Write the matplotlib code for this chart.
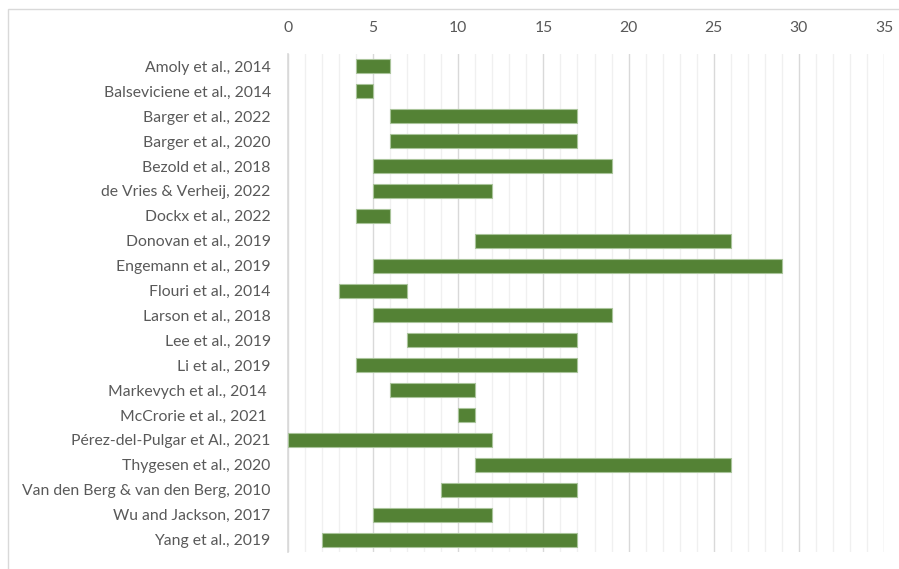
import matplotlib.pyplot as plt
from matplotlib.patches import Rectangle
from matplotlib.ticker import MultipleLocator

# studies and their age ranges (start, end)
studies = ["Amoly et al., 2014", "Balseviciene et al., 2014", "Barger et al., 2022",
           "Barger et al., 2020", "Bezold et al., 2018", "de Vries & Verheij, 2022",
           "Dockx et al., 2022", "Donovan et al., 2019", "Engemann et al., 2019",
           "Flouri et al., 2014", "Larson et al., 2018", "Lee et al., 2019",
           "Li et al., 2019", "Markevych et al., 2014 ", "McCrorie et al., 2021 ",
           "Pérez-del-Pulgar et Al., 2021", "Thygesen et al., 2020",
           "Van den Berg & van den Berg, 2010", "Wu and Jackson, 2017", "Yang et al., 2019"]
age_start = [4, 4, 6, 6, 5, 5, 4, 11, 5, 3, 5, 7, 4, 6, 10, 0, 11, 9, 5, 2]
age_end = [6, 5, 17, 17, 19, 12, 6, 26, 29, 7, 19, 17, 17, 11, 11, 12, 26, 17, 12, 17]

plt.rcParams['font.family'] = ['Lato', 'DejaVu Sans']

fig = plt.figure(figsize=(8.99, 5.69), dpi=100)
ax = fig.add_axes([288 / 899, 1 - 552 / 569, (884 - 288) / 899, (552 - 54) / 569])

# chart border
fig.patches.append(Rectangle((8 / 899, -0.05), 1.0, 1 - 9 / 569 + 0.05,
                             transform=fig.transFigure, fill=False,
                             edgecolor='#d9d9d9', linewidth=1))

widths = [e - s for s, e in zip(age_start, age_end)]
y = range(len(studies))
ax.barh(y, widths, left=age_start, height=0.56, color='#548235',
        edgecolor='#a9c49a', linewidth=0.8, zorder=3)

ax.set_xlim(0, 35)
ax.set_ylim(len(studies) - 0.5, -0.5)
ax.set_yticks(list(y))
ax.set_yticklabels(studies)
ax.xaxis.set_major_locator(MultipleLocator(5))
ax.xaxis.set_minor_locator(MultipleLocator(1))
ax.xaxis.tick_top()
ax.tick_params(axis='x', which='both', length=0, labelsize=11.3, colors='#595959', pad=14)
ax.tick_params(axis='y', length=0, labelsize=11.3, colors='#595959', pad=12.5)

ax.grid(axis='x', which='major', color='#d9d9d9', linewidth=1, zorder=0)
ax.grid(axis='x', which='minor', color='#f0f0f0', linewidth=1, zorder=0)
for s in ['top', 'right', 'bottom']:
    ax.spines[s].set_visible(False)
ax.spines['left'].set_color('#d9d9d9')
ax.spines['left'].set_linewidth(1.2)

fig.savefig('out.png', dpi=100)
